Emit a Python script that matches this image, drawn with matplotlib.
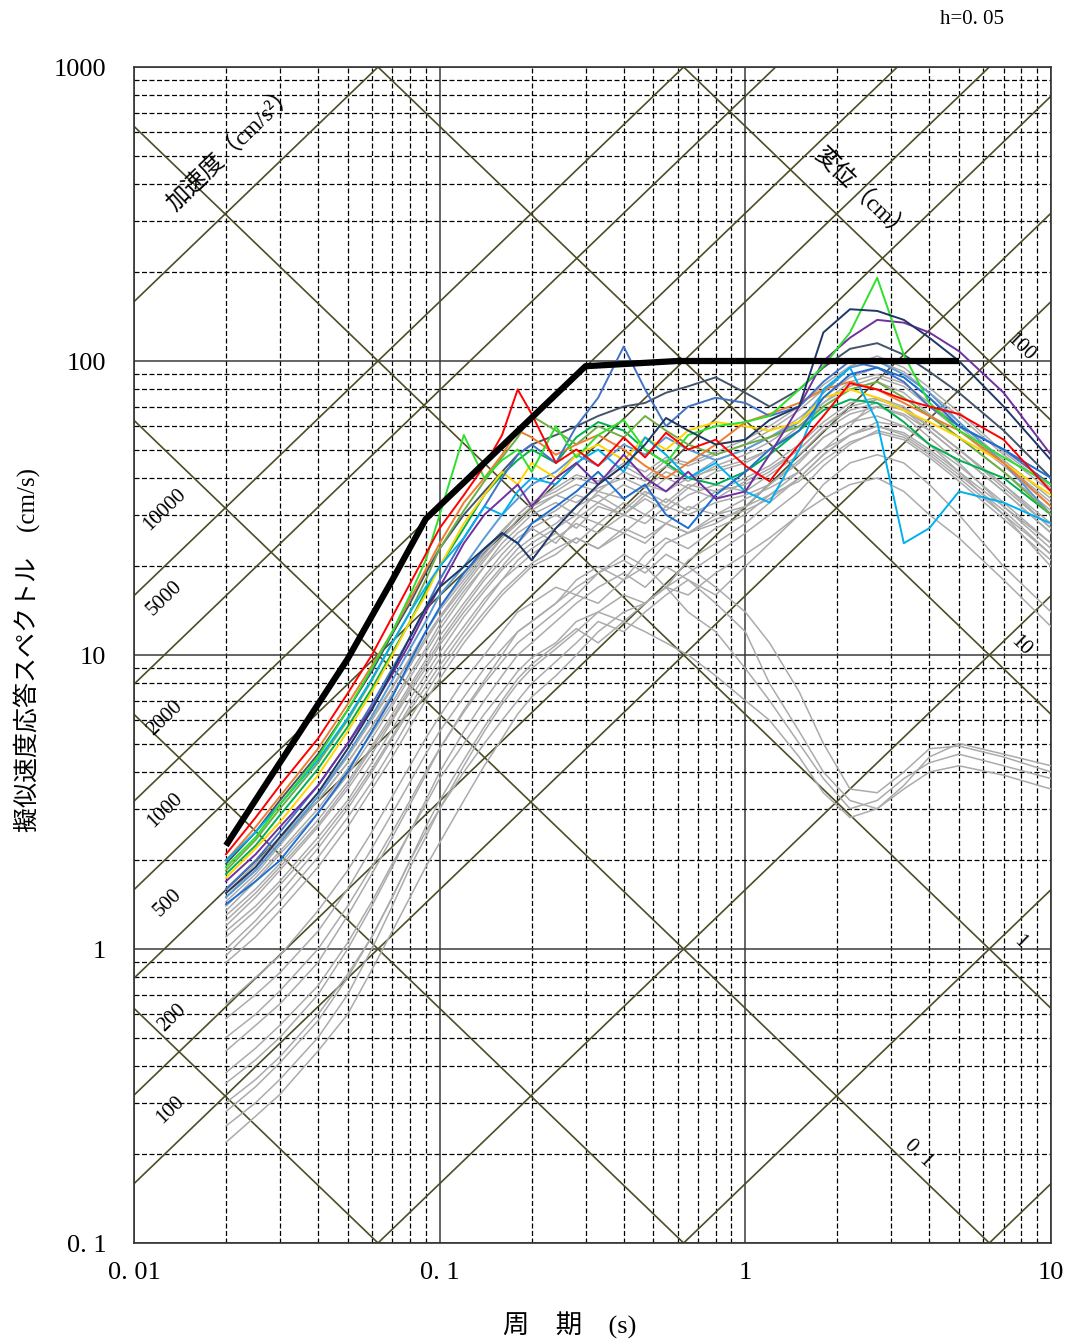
import numpy as np
import matplotlib
matplotlib.use("Agg")
import matplotlib.pyplot as plt
from matplotlib.ticker import LogLocator, NullFormatter

plt.rcParams['font.family'] = ['Liberation Serif', 'Noto Sans CJK JP']

# period grid shared by all spectra (s)
periods = [0.02, 0.025, 0.03, 0.04, 0.05, 0.06, 0.07, 0.08, 0.09, 0.1,
           0.12, 0.14, 0.16, 0.18, 0.2, 0.24, 0.28, 0.33, 0.4, 0.47,
           0.55, 0.65, 0.8, 1.0, 1.2, 1.5, 1.8, 2.2, 2.7, 3.3,
           4.0, 5.0, 7.0, 10.0]

# design spectrum (thick black)
design_T = [0.02, 0.03, 0.05, 0.07, 0.09, 0.3, 0.6, 5.0]
design_sv = [2.25, 4.3, 9.7, 18, 29, 96, 100, 100]

# coloured spectra
red_sv = [2.1, 2.8, 3.6, 5.2, 7.4, 10, 13.5, 17.5, 22, 27,
          35, 44, 56, 80, 66, 45, 50, 44, 55, 47,
          57, 50, 54, 44, 39, 52, 65, 84, 80, 74,
          70, 66, 54, 36]
green_sv = [1.9, 2.4, 3.1, 4.5, 6.5, 9, 12, 16, 21, 30,
            56, 40, 46, 50, 42, 60, 47, 56, 63, 50,
            45, 56, 60, 62, 65, 80, 96, 125, 192, 105,
            72, 58, 47, 38]
navy_sv = [1.55, 1.9, 2.4, 3.4, 4.8, 6.5, 8.8, 11.5, 14.5, 17,
           20, 23, 26, 24, 21, 27, 32, 38, 44, 52,
           64, 58, 52, 54, 63, 70, 125, 150, 148, 138,
           120, 100, 70, 46]
purple_sv = [1.7, 2.1, 2.6, 3.6, 5.0, 6.6, 8.6, 11, 14, 17,
             24, 30, 34, 38, 32, 40, 45, 38, 48, 40,
             36, 42, 34, 36, 48, 70, 100, 120, 138, 135,
             125, 108, 78, 48]
cyan_sv = [2.0, 2.5, 3.1, 4.4, 6.1, 8.3, 11, 14, 17, 20,
           25, 32, 30, 36, 40, 38, 45, 50, 42, 55,
           48, 40, 45, 36, 33, 50, 80, 95, 62, 24,
           27, 36, 33, 28]
steel_sv = [1.6, 2.0, 2.5, 3.6, 5.0, 6.8, 9, 11.5, 14.5, 18,
            25, 32, 40, 48, 52, 45, 60, 75, 112, 80,
            60, 70, 75, 72, 65, 70, 85, 100, 95, 85,
            70, 60, 50, 38]
orange_sv = [2.0, 2.6, 3.3, 4.8, 6.8, 9.2, 12, 15.5, 19.5, 24,
             33, 40, 48, 58, 55, 48, 52, 56, 50, 44,
             40, 45, 52, 62, 66, 72, 80, 85, 80, 72,
             65, 58, 45, 32]
yellow_sv = [1.75, 2.2, 2.7, 3.9, 5.5, 7.5, 10, 13, 16, 20,
             28, 35, 42, 38, 45, 40, 48, 52, 46, 55,
             50, 58, 62, 60, 58, 62, 75, 80, 75, 68,
             62, 55, 45, 35]
mgreen_sv = [1.85, 2.35, 3.0, 4.3, 6.0, 8.2, 11, 14, 18, 23,
             31, 39, 47, 55, 65, 58, 52, 60, 55, 65,
             58, 52, 48, 52, 55, 60, 70, 80, 85, 75,
             65, 55, 42, 30]
dgreen_sv = [1.8, 2.25, 2.85, 4.1, 5.7, 7.7, 10.2, 13, 16.5, 20,
             27, 35, 41, 46, 50, 45, 55, 62, 58, 50,
             45, 40, 38, 42, 48, 58, 68, 74, 72, 62,
             52, 46, 40, 30]
lblue_sv = [1.5, 1.85, 2.3, 3.3, 4.6, 6.2, 8.2, 10.5, 13, 16,
            20, 25, 30, 34, 38, 42, 48, 44, 52, 48,
            55, 50, 46, 50, 55, 62, 78, 95, 100, 90,
            78, 62, 45, 30]
rblue_sv = [1.42, 1.7, 2.0, 2.9, 4.0, 5.5, 7.2, 9.5, 12, 14.5,
            19, 23, 26, 24, 28, 32, 36, 42, 34, 38,
            30, 27, 35, 42, 50, 58, 75, 90, 95, 88,
            75, 60, 50, 40]
slate_sv = [1.95, 2.5, 3.2, 4.6, 6.5, 8.8, 11.8, 15, 19, 23,
            30, 36, 42, 48, 52, 56, 60, 65, 70, 72,
            78, 82, 88, 78, 70, 80, 95, 110, 115, 105,
            92, 78, 58, 40]

# grey spectra, main band
gu1 = [1.0, 1.25, 1.55, 2.2, 3.0, 4.0, 5.2, 6.5, 7.8, 9.2,
       12, 15, 18, 20, 22, 25, 28, 26, 30, 28,
       32, 30, 33, 35, 38, 45, 55, 62, 65, 60,
       52, 44, 33, 24]
gu2 = [1.2, 1.5, 1.85, 2.6, 3.5, 4.6, 6.0, 7.5, 9.0, 10.8,
       14, 17, 20, 23, 25, 28, 32, 35, 31, 36,
       33, 38, 36, 40, 44, 52, 62, 72, 75, 70,
       60, 50, 38, 28]
gu3 = [1.35, 1.7, 2.1, 2.9, 3.9, 5.2, 6.7, 8.4, 10.2, 12.2,
       16, 20, 23, 26, 28, 31, 35, 33, 38, 35,
       40, 37, 42, 45, 50, 58, 70, 80, 85, 78,
       66, 55, 42, 31]
gu4 = [1.45, 1.8, 2.25, 3.2, 4.3, 5.7, 7.3, 9.2, 11.2, 13.3,
       17, 21, 25, 28, 31, 35, 38, 36, 42, 39,
       44, 40, 46, 50, 55, 64, 75, 88, 95, 88,
       75, 62, 46, 34]
gu5 = [1.1, 1.35, 1.65, 2.3, 3.1, 4.1, 5.3, 6.7, 8.2, 9.7,
       12.5, 15.5, 18, 21, 23, 26, 24, 28, 26, 30,
       28, 32, 30, 34, 37, 42, 50, 56, 60, 57,
       50, 42, 32, 23]
gu6 = [1.55, 1.95, 2.4, 3.4, 4.6, 6.1, 7.8, 9.8, 12, 14.2,
       18, 22, 26, 30, 33, 36, 40, 38, 44, 40,
       46, 44, 48, 52, 58, 68, 80, 95, 100, 92,
       78, 65, 48, 36]
gu7 = [1.25, 1.55, 1.9, 2.65, 3.6, 4.8, 6.1, 7.7, 9.3, 11.1,
       14.5, 18, 21, 24, 27, 30, 27, 32, 30, 34,
       31, 35, 38, 36, 41, 48, 58, 66, 70, 66,
       58, 48, 36, 26]
gu8 = [1.4, 1.75, 2.15, 3.0, 4.1, 5.4, 6.9, 8.7, 10.5, 12.7,
       16.5, 20, 24, 27, 30, 33, 30, 36, 34, 38,
       36, 40, 43, 46, 50, 60, 72, 82, 88, 82,
       70, 58, 44, 32]
gu9 = [0.95, 1.2, 1.45, 2.05, 2.8, 3.7, 4.8, 6.1, 7.4, 8.8,
       11.5, 14, 16.5, 18.5, 20.5, 23, 25, 23, 26, 24,
       28, 26, 30, 32, 35, 39, 46, 53, 57, 54,
       47, 39, 29, 21]
gu10 = [1.5, 1.9, 2.35, 3.3, 4.5, 6.0, 7.7, 9.7, 12, 14.5,
        18.5, 22.5, 26.5, 30, 33, 37, 41, 39, 45, 42,
        47, 45, 49, 54, 60, 70, 83, 96, 104, 95,
        81, 67, 49, 37]
gu11 = [1.3, 1.6, 1.95, 2.75, 3.7, 4.9, 6.3, 7.9, 9.6, 11.6,
        15, 18.5, 22, 25, 27, 24, 29, 33, 30, 35,
        32, 37, 34, 39, 43, 50, 60, 70, 74, 69,
        60, 50, 37, 27]
gu12 = [0.9, 1.1, 1.35, 1.9, 2.6, 3.5, 4.5, 5.7, 7.0, 8.3,
        11, 13.5, 16, 18, 20, 22, 25, 23, 27, 25,
        28, 26, 29, 31, 34, 40, 48, 56, 60, 56,
        49, 41, 31, 22]
gu13 = [1.5, 1.85, 2.3, 3.2, 4.3, 5.7, 7.4, 9.3, 11.5, 13.5,
        17.5, 21.5, 25, 29, 32, 35, 33, 37, 40, 37,
        42, 39, 44, 48, 53, 62, 72, 85, 90, 84,
        72, 60, 45, 33]
gu14 = [1.15, 1.4, 1.7, 2.4, 3.2, 4.3, 5.6, 7.1, 8.6, 10.2,
        13.5, 16.5, 19.5, 22, 24, 27, 30, 28, 33, 30,
        34, 31, 36, 38, 42, 50, 60, 68, 72, 68,
        60, 50, 38, 27]

# grey spectra, low short-period level, long-period peak
ga1 = [0.22, 0.27, 0.32, 0.45, 0.6, 0.85, 1.15, 1.5, 1.9, 2.3,
       3.2, 4.2, 5.2, 6.3, 7.2, 8.5, 10, 12, 14, 15,
       17, 19, 22, 26, 30, 36, 44, 52, 58, 55,
       48, 40, 30, 22]
ga2 = [0.5, 0.6, 0.72, 1.0, 1.4, 1.9, 2.5, 3.2, 4.0, 4.8,
       6.4, 8.0, 9.5, 11, 12, 14, 16, 15, 18, 20,
       17, 21, 24, 28, 33, 40, 48, 56, 62, 60,
       52, 42, 30, 20]
ga3 = [0.65, 0.8, 0.95, 1.35, 1.85, 2.5, 3.3, 4.2, 5.2, 6.2,
       8.2, 10, 12, 14, 15, 17, 16, 19, 22, 20,
       24, 26, 28, 32, 38, 46, 55, 62, 70, 65,
       55, 45, 32, 24]
ga4 = [0.38, 0.46, 0.55, 0.75, 1.05, 1.45, 1.95, 2.5, 3.1, 3.8,
       5.0, 6.3, 7.5, 8.8, 9.8, 11, 13, 14, 13, 15,
       17, 16, 19, 22, 25, 30, 34, 38, 40, 36,
       30, 25, 18, 12.5]
ga5 = [0.58, 0.7, 0.83, 1.15, 1.6, 2.2, 2.9, 3.7, 4.6, 5.5,
       7.2, 9, 10.5, 12, 13, 15, 18, 20, 18, 22,
       25, 23, 27, 30, 35, 42, 50, 60, 75, 68,
       58, 48, 36, 26]
ga6 = [0.3, 0.36, 0.43, 0.6, 0.82, 1.1, 1.5, 2.0, 2.5, 3.0,
       4.0, 5.0, 6.0, 7.0, 8.0, 9.5, 11, 13, 12, 14,
       16, 18, 16, 20, 24, 30, 38, 45, 48, 45,
       38, 30, 20, 14]

# grey spectra, short-period peak then trough near 2 s
gb1 = [0.25, 0.3, 0.36, 0.5, 0.7, 1.0, 1.4, 1.9, 2.4, 3.0,
       4.2, 5.5, 6.8, 8.0, 9.0, 10.5, 12, 14, 16, 15,
       17, 14, 12, 9, 7, 5, 3.8, 3.0, 3.2, 3.8,
       4.3, 4.6, 4.2, 3.8]
gb2 = [0.35, 0.42, 0.5, 0.7, 1.0, 1.4, 1.9, 2.5, 3.2, 4.0,
       5.5, 7.0, 8.5, 10, 11, 13, 15, 17, 19, 17,
       20, 18, 15, 12, 8, 5.5, 4.0, 3.2, 3.0, 3.6,
       4.5, 5.0, 4.6, 4.2]
gb3 = [0.45, 0.55, 0.65, 0.9, 1.3, 1.8, 2.4, 3.1, 3.9, 4.8,
       6.5, 8.2, 10, 12, 13, 15, 17, 19, 21, 19,
       22, 20, 17, 14, 11, 7.5, 5.0, 3.5, 3.4, 4.0,
       4.8, 4.9, 4.5, 4.0]
gb4 = [0.28, 0.34, 0.41, 0.57, 0.8, 1.1, 1.5, 2.0, 2.6, 3.2,
       4.4, 5.7, 7.0, 8.3, 9.3, 10.8, 12.3, 11, 13, 12,
       11, 10, 8.5, 7, 6, 4.5, 3.4, 2.8, 3.0, 3.5,
       4.0, 4.2, 3.9, 3.5]

# tripartite guide lines
accel_levels = [0.1, 1, 10, 100, 200, 500, 1000, 2000, 5000, 10000, 100000]
disp_levels = [0.001, 0.01, 0.1, 1, 10, 100]

greys = [gu1, gu2, gu3, gu4, gu5, gu6, gu7, gu8, gu9, gu10, gu11, gu12, gu13, gu14,
         ga1, ga2, ga3, ga4, ga5, ga6, gb1, gb2, gb3, gb4]
colored = [(slate_sv, '#44546A'), (lblue_sv, '#5B9BD5'), (dgreen_sv, '#00B050'),
           (mgreen_sv, '#70AD47'), (yellow_sv, '#FFD400'), (orange_sv, '#ED7D31'),
           (steel_sv, '#4472C4'), (cyan_sv, '#00B0F0'), (rblue_sv, '#1F6FD0'),
           (purple_sv, '#7030A0'), (green_sv, '#2EE02E'), (red_sv, '#FF0000'),
           (navy_sv, '#1F3864')]

fig = plt.figure(figsize=(10.71, 13.44), dpi=100)
ax = fig.add_axes([134 / 1071, 1 - 1243 / 1344, 917 / 1071, 1176 / 1344])
ax.set_xscale('log')
ax.set_yscale('log')

diag_color = '#4d4d26'
t_edge = np.array([0.01, 10.0])
for a in accel_levels:
    ax.plot(t_edge, a * t_edge / (2 * np.pi), color=diag_color, lw=1.2, zorder=1)
for d in disp_levels:
    ax.plot(t_edge, 2 * np.pi * d / t_edge, color=diag_color, lw=1.2, zorder=1)

for sv in greys:
    ax.plot(periods, sv, color='#ABABAB', lw=1.1, zorder=3)
for sv, c in colored:
    ax.plot(periods, sv, color=c, lw=1.4, zorder=4)
ax.plot(design_T, design_sv, color='black', lw=4.5, zorder=5, solid_capstyle='butt')

ax.set_xlim(0.01, 10)
ax.set_ylim(0.1, 1000)

ax.set_axisbelow(True)
ax.xaxis.set_minor_locator(LogLocator(base=10, subs=np.arange(2, 10), numticks=20))
ax.yaxis.set_minor_locator(LogLocator(base=10, subs=np.arange(2, 10), numticks=20))
ax.xaxis.set_minor_formatter(NullFormatter())
ax.yaxis.set_minor_formatter(NullFormatter())
ax.grid(which='major', color='#3a3a3a', lw=1.1, ls='-')
ax.grid(which='minor', color='black', lw=0.9, ls=(0, (4, 2)))
ax.tick_params(which='both', length=0)
ax.set_xticks([0.01, 0.1, 1, 10])
ax.set_xticklabels(['0. 01', '0. 1', '1', '10'], fontsize=19)
ax.set_yticks([0.1, 1, 10, 100, 1000])
ax.set_yticklabels(['0. 1', '1', '10', '100', '1000'], fontsize=19)
ax.tick_params(axis='y', pad=20)
ax.tick_params(axis='x', pad=14)
for s in ax.spines.values():
    s.set_color('#333333')
    s.set_linewidth(1.2)

# labels on guide lines
lab_kw = dict(fontsize=15, ha='center', va='center', rotation_mode='anchor', zorder=6)
accel_text = [('10000', 0.01263, 31.1), ('5000', 0.01263, 15.6), ('2000', 0.01263, 6.1),
              ('1000', 0.01263, 2.97), ('500', 0.0129, 1.43), ('200', 0.0133, 0.582),
              ('100', 0.0131, 0.283)]
for txt, tx, ty in accel_text:
    ax.text(tx, ty, txt, rotation=44, **lab_kw)
disp_text = [('100', 7.94, 110.7), ('10', 7.94, 10.7), ('1', 7.94, 1.05), ('0. 1', 3.67, 0.202)]
for txt, tx, ty in disp_text:
    ax.text(tx, ty, txt, rotation=-44, **lab_kw)
ax.text(0.0209, 530, '加速度（cm/s²）', rotation=44, fontsize=17, ha='center', va='center',
        rotation_mode='anchor', zorder=6)
ax.text(2.41, 367, '変位（cm）', rotation=-44, fontsize=17, ha='center', va='center',
        rotation_mode='anchor', zorder=6)

fig.text(972 / 1071, 1 - 20 / 1344, 'h=0. 05', fontsize=15, ha='center', va='center')
fig.text(570 / 1071, 1 - 1325 / 1344, '周　期　(s)', fontsize=19, ha='center', va='center')
fig.text(27 / 1071, 1 - 650 / 1344, '擬似速度応答スペクトル　(cm/s)', fontsize=18,
         rotation=90, ha='center', va='center')

fig.savefig('out.png', dpi=100, facecolor='white')
